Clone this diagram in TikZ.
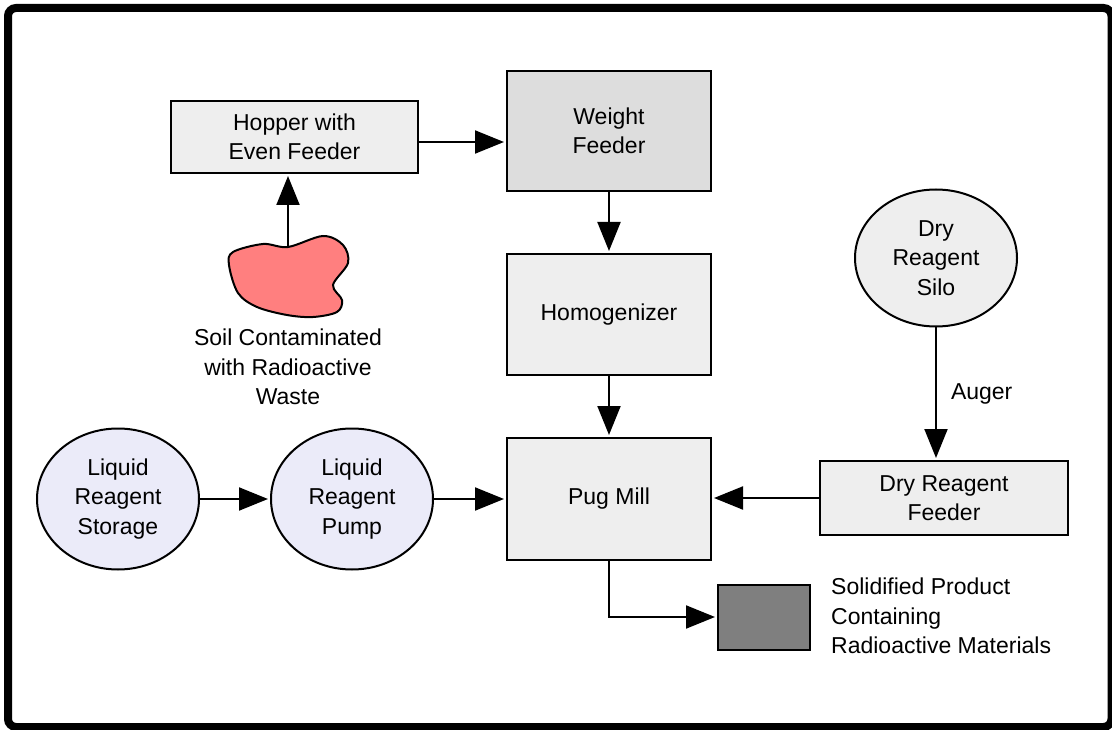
\documentclass[tikz,border=0pt]{standalone}
\usepackage{fontspec}
\setmainfont{Liberation Sans}
\usetikzlibrary{arrows.meta,shapes.geometric}
\definecolor{boxgray}{HTML}{EEEEEE}
\definecolor{feedgray}{HTML}{DDDDDD}
\definecolor{liquid}{HTML}{EBEBF9}
\definecolor{soil}{HTML}{FF7F7F}
\definecolor{product}{HTML}{7F7F7F}
\tikzset{
  lbl/.style={font=\fontsize{23}{29.5}\selectfont, align=center, inner sep=0pt},
  procbox/.style={draw=black, line width=2pt, fill=boxgray, rectangle, inner sep=0pt, lbl},
  tank/.style={draw=black, line width=2pt, ellipse, inner sep=0pt, lbl},
  flow/.style={draw=black, line width=2pt, -{Triangle[length=29pt,width=23pt]}, shorten >=2pt}
}
\begin{document}
\begin{tikzpicture}[x=1pt,y=-1pt]
\useasboundingbox (0,0) rectangle (1112,730);
% outer frame
\draw[line width=8pt, rounded corners=8pt] (8,8) rectangle (1111.5,727);

% process units
\node[procbox, minimum width=247pt, minimum height=72pt] (hopper) at (294.5,137) {Hopper with\\Even Feeder};
\node[procbox, fill=feedgray, minimum width=204pt, minimum height=120pt] (weigh) at (609,131) {Weight\\Feeder};
\node[procbox, minimum width=204pt, minimum height=121pt] (homog) at (609,314.5) {Homogenizer};
\node[procbox, minimum width=204pt, minimum height=122pt] (pug) at (609,499) {Pug Mill};
\node[procbox, minimum width=248pt, minimum height=74pt] (dryfeed) at (944,498) {Dry Reagent\\Feeder};
\node[draw=black, line width=2pt, fill=product, minimum width=92pt, minimum height=65pt, inner sep=0pt] (prod) at (764,617) {};

% storage vessels
\node[tank, fill=boxgray, minimum width=162pt, minimum height=137pt] (silo) at (936,258) {Dry\\Reagent\\Silo};
\node[tank, fill=liquid, minimum width=162pt, minimum height=141pt] (lstore) at (118,499) {Liquid\\Reagent\\Storage};
\node[tank, fill=liquid, minimum width=162pt, minimum height=141pt] (lpump) at (352,499) {Liquid\\Reagent\\Pump};

% contaminated soil pile
\draw[line width=2pt, fill=soil] plot[smooth cycle, tension=0.55] coordinates {
  (233,252) (263,244) (288,247) (323,236) (343,245) (348,263) (333,285)
  (342,300) (337,312) (313,317) (287,315) (257,307) (238,293) (229,265)};
\coordinate (soiltop) at (288,247);

% free-standing labels
\node[lbl] (soillbl) at (288,367) {Soil Contaminated\\with Radioactive\\Waste};
\node[lbl, align=left, anchor=west] (prodlbl) at (831,616) {Solidified Product\\Containing\\Radioactive Materials};

% flows
\draw[flow] (soiltop) -- (soiltop |- hopper.south);
\draw[flow] (hopper.east |- 0,142) -- (weigh.west |- 0,142);
\draw[flow] (weigh.south) -- (homog.north);
\draw[flow] (homog.south) -- (pug.north);
\draw[flow] (silo.south) -- node[lbl, right=14pt] (auger) {Auger} (silo.south |- dryfeed.north);
\draw[flow] (dryfeed.west) -- (dryfeed.west -| pug.east);
\draw[flow] (lstore.east) -- (lpump.west);
\draw[flow] (lpump.east) -- (lpump.east -| pug.west);
\draw[flow] (pug.south) |- (prod.west);
\end{tikzpicture}
\end{document}
